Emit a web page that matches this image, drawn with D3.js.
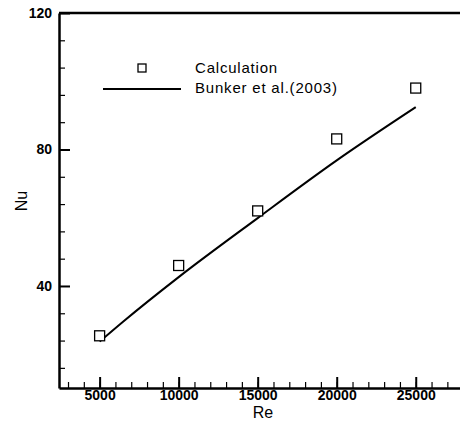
<!DOCTYPE html>
<html>
<head>
<meta charset="utf-8">
<script src="https://cdn.jsdelivr.net/npm/d3@7"></script>
<style>
  body { margin: 0; background: #fff; }
  svg { display: block; font-family: "Liberation Sans", Arial, sans-serif; }
  .axis path, .axis line { stroke: #000; }
  .axis text { font-size: 14px; font-weight: bold; fill: #000; }
</style>
</head>
<body>
<script>
// calculated points (squares)
var calcRe = [5000, 10000, 15000, 20000, 25000];
var calcNu = [25.4, 46.0, 62.0, 83.1, 98.0];

// Bunker et al.(2003) correlation line
var bunkerRe = [5000, 6500, 10000, 15000, 20000, 25000];
var bunkerNu = [23.7, 29.6, 42.6, 59.9, 76.8, 92.4];

// tick labels
var xMajor = [5000, 10000, 15000, 20000, 25000];
var xMinor = d3.range(3000, 28000, 1000);
var yMajor = [40, 80, 120];
var yMinor = [16, 24, 32, 48, 56, 64, 72, 88, 96, 104, 112];

var W = 460, H = 422;
var svg = d3.select("body").append("svg")
    .attr("width", W)
    .attr("height", H);

var x = d3.scaleLinear().domain([2430, 27800]).range([59, 460]);
var y = d3.scaleLinear().domain([10.1, 120]).range([388, 13]);

//minor ticks first, no labels
svg.append("g")
    .attr("class", "axis")
    .attr("transform", "translate(0,388)")
    .call(d3.axisBottom(x).tickValues(xMinor).tickSize(-6).tickFormat(""))
    .call(g => g.select(".domain").remove())
    .selectAll("line").attr("stroke-width", 1.2);

svg.append("g")
    .attr("class", "axis")
    .attr("transform", "translate(59,0)")
    .call(d3.axisLeft(y).tickValues(yMinor).tickSize(-6).tickFormat(""))
    .call(g => g.select(".domain").remove())
    .selectAll("line").attr("stroke-width", 1.2);

//major ticks + labels
var xAxis = svg.append("g")
    .attr("class", "axis")
    .attr("transform", "translate(0,388)")
    .call(d3.axisBottom(x).tickValues(xMajor).tickSize(-11).tickSizeOuter(0).tickFormat(d3.format("d")));
xAxis.select(".domain").attr("stroke-width", 2.5);
xAxis.selectAll("line").attr("stroke-width", 2);
xAxis.selectAll("text").attr("dy", null).attr("y", 12);

var yAxis = svg.append("g")
    .attr("class", "axis")
    .attr("transform", "translate(59,0)")
    .call(d3.axisLeft(y).tickValues(yMajor).tickSize(-11).tickSizeOuter(0));
yAxis.select(".domain").attr("stroke-width", 2.5);
yAxis.selectAll("line").attr("stroke-width", 2);
yAxis.selectAll("text").attr("x", -7);

// top frame line
svg.append("line")
    .attr("x1", x.range()[0]).attr("x2", W)
    .attr("y1", y(120)).attr("y2", y(120))
    .attr("stroke", "#000")
    .attr("stroke-width", 2.5);

// axis titles
svg.append("text")
    .attr("x", 263).attr("y", 418)
    .attr("text-anchor", "middle")
    .attr("font-size", 16)
    .text("Re");

svg.append("text")
    .attr("transform", "translate(27,201) rotate(-90)")
    .attr("text-anchor", "middle")
    .attr("font-size", 16)
    .text("Nu");

// Bunker line
var lineData = bunkerRe.map(function(d, i) { return [d, bunkerNu[i]]; });
svg.append("path")
    .datum(lineData)
    .attr("fill", "none")
    .attr("stroke", "#000")
    .attr("stroke-width", 2)
    .attr("d", d3.line().curve(d3.curveMonotoneX).x(d => x(d[0])).y(d => y(d[1])));

// calculation squares
var sq = 10;
svg.selectAll("rect.calc")
    .data(calcRe)
    .enter().append("rect")
    .attr("class", "calc")
    .attr("x", function(d) { return x(d) - sq / 2; })
    .attr("y", function(d, i) { return y(calcNu[i]) - sq / 2; })
    .attr("width", sq)
    .attr("height", sq)
    .attr("fill", "#fff")
    .attr("stroke", "#000")
    .attr("stroke-width", 1.3);

// legend
var legend = svg.append("g");
legend.append("rect")
    .attr("x", 138).attr("y", 64)
    .attr("width", 8).attr("height", 8)
    .attr("fill", "none").attr("stroke", "#000").attr("stroke-width", 1.3);
legend.append("line")
    .attr("x1", 103).attr("x2", 181)
    .attr("y1", 89).attr("y2", 89)
    .attr("stroke", "#000").attr("stroke-width", 2);
legend.append("text")
    .attr("x", 195).attr("y", 73)
    .attr("font-size", 15).attr("letter-spacing", 0.8)
    .text("Calculation");
legend.append("text")
    .attr("x", 195).attr("y", 93)
    .attr("font-size", 15).attr("letter-spacing", 0.8)
    .text("Bunker et al.(2003)");
</script>
</body>
</html>
